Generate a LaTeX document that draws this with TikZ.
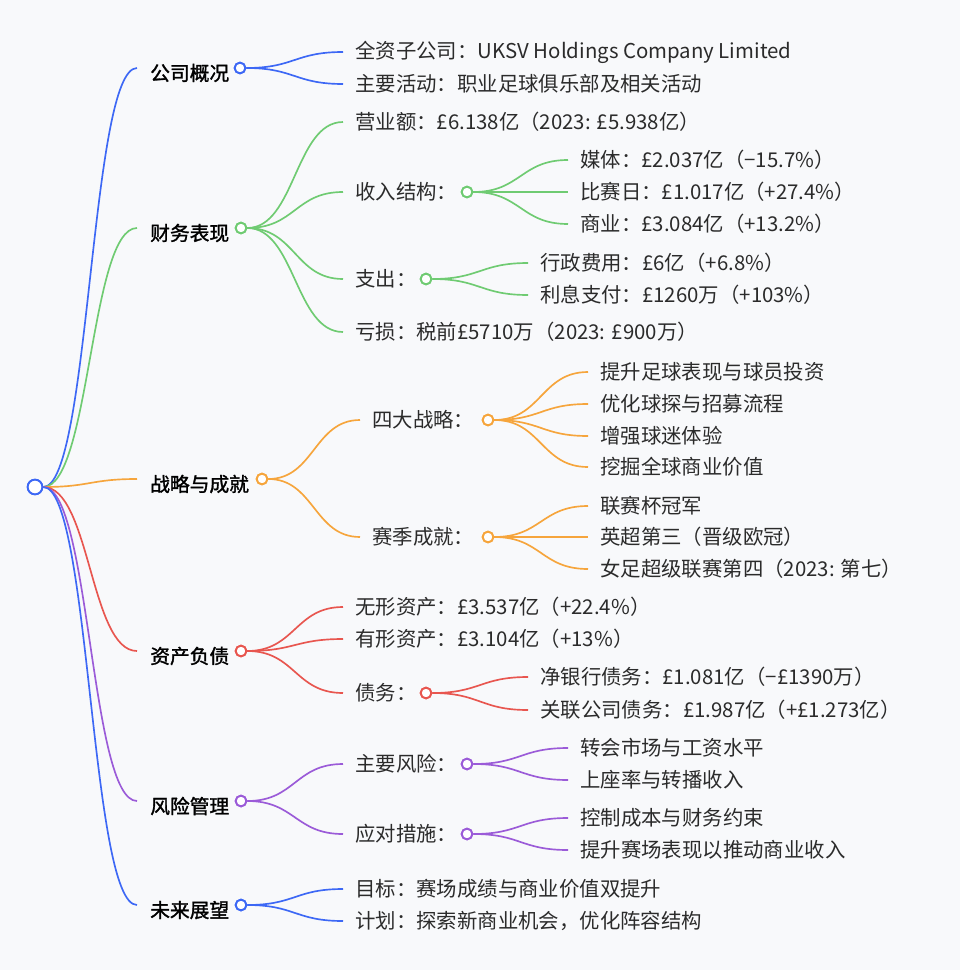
\documentclass[tikz,border=0pt]{standalone}
\usepackage{fontspec}
\setmainfont{Noto Sans CJK SC}
\newfontfamily\boldcjk[FakeBold=1.5]{Noto Sans CJK SC}
\usetikzlibrary{calc}
\definecolor{cb}{HTML}{3D68F5}
\definecolor{cg}{HTML}{6FCB72}
\definecolor{co}{HTML}{F6A53C}
\definecolor{cr}{HTML}{E8564F}
\definecolor{cp}{HTML}{9B5BD8}
\definecolor{bg}{HTML}{F8F9FB}
\definecolor{tx}{HTML}{2B2B2B}
\begin{document}
\begin{tikzpicture}[x=0.75pt,y=-0.75pt,
  dot/.style={circle,draw=#1,fill=white,line width=1.4pt,inner sep=0pt,minimum size=8pt},
  lbl/.style={anchor=west,inner sep=0pt,text=tx,font=\fontsize{15.3}{17}\selectfont},
  blbl/.style={anchor=west,inner sep=0pt,text=black,font=\fontsize{14.8}{17}\selectfont\boldcjk},
  ln/.style={draw=#1,line width=1.25pt}]
\fill[bg] (0,0) rectangle (960,970);
\useasboundingbox (0,0) rectangle (960,970);
\newcommand\curv[3]{%
  \draw[ln=#3] let \p1=(#1), \p2=(#2) in (\p1) .. controls ({(\x1+\x2)/2},\y1) and ({(\x1+\x2)/2},\y2) .. (\p2);}
\node[dot=cb,minimum size=11pt] (root) at (35,487) {};
\def\B#1#2#3#4#5{%
 \coordinate (#1e) at (137,#3);
 \node[blbl] (#1) at (150,#3+5) {#2};
 \node[dot=#4] (#1c) at (#5,#3) {};
 \curv{root.east}{#1e}{#4}
}
\B{a}{公司概况}{68}{cb}{240}
\B{b}{财务表现}{228}{cg}{241}
\B{c}{战略与成就}{479}{co}{262}
\B{d}{资产负债}{651}{cr}{241}
\B{e}{风险管理}{801}{cp}{241}
\B{f}{未来展望}{905}{cb}{241}
\def\L#1#2#3#4#5#6{%
 \coordinate (#1e) at (#4-12,#3);
 \node[lbl] (#1) at (#4,#3) {#5};
 \curv{#2.east}{#1e}{#6}
}
\def\M#1#2#3#4#5#6#7{%
 \L{#1}{#2}{#3}{#4}{#5}{#6}
 \node[dot=#6] (#1c) at (#7,#3) {};
}
\L{a1}{ac}{52}{355}{全资子公司：UKSV Holdings Company Limited}{cb}
\L{a2}{ac}{84}{355}{主要活动：职业足球俱乐部及相关活动}{cb}
\L{b1}{bc}{122}{355}{营业额：£6.138亿（2023: £5.938亿）}{cg}
\M{b2}{bc}{192}{355}{收入结构：}{cg}{467}
\M{b3}{bc}{279}{355}{支出：}{cg}{426}
\L{b4}{bc}{332}{355}{亏损：税前£5710万（2023: £900万）}{cg}
\L{b21}{b2c}{160}{580}{媒体：£2.037亿（−15.7\%）}{cg}
\L{b22}{b2c}{192}{580}{比赛日：£1.017亿（+27.4\%）}{cg}
\L{b23}{b2c}{224}{580}{商业：£3.084亿（+13.2\%）}{cg}
\L{b31}{b3c}{263}{540}{行政费用：£6亿（+6.8\%）}{cg}
\L{b32}{b3c}{295}{540}{利息支付：£1260万（+103\%）}{cg}
\M{c1}{cc}{420}{372}{四大战略：}{co}{488}
\M{c2}{cc}{537}{372}{赛季成就：}{co}{488}
\L{c11}{c1c}{372}{600}{提升足球表现与球员投资}{co}
\L{c12}{c1c}{404}{600}{优化球探与招募流程}{co}
\L{c13}{c1c}{436}{600}{增强球迷体验}{co}
\L{c14}{c1c}{467}{600}{挖掘全球商业价值}{co}
\L{c21}{c2c}{506}{600}{联赛杯冠军}{co}
\L{c22}{c2c}{537}{600}{英超第三（晋级欧冠）}{co}
\L{c23}{c2c}{569}{600}{女足超级联赛第四（2023: 第七）}{co}
\L{d1}{dc}{607}{355}{无形资产：£3.537亿（+22.4\%）}{cr}
\L{d2}{dc}{639}{355}{有形资产：£3.104亿（+13\%）}{cr}
\M{d3}{dc}{693}{355}{债务：}{cr}{426}
\L{d31}{d3c}{677}{540}{净银行债务：£1.081亿（−£1390万）}{cr}
\L{d32}{d3c}{710}{540}{关联公司债务：£1.987亿（+£1.273亿）}{cr}
\M{e1}{ec}{764}{355}{主要风险：}{cp}{467}
\M{e2}{ec}{834}{355}{应对措施：}{cp}{467}
\L{e11}{e1c}{748}{580}{转会市场与工资水平}{cp}
\L{e12}{e1c}{780}{580}{上座率与转播收入}{cp}
\L{e21}{e2c}{818}{580}{控制成本与财务约束}{cp}
\L{e22}{e2c}{850}{580}{提升赛场表现以推动商业收入}{cp}
\L{f1}{fc}{889}{355}{目标：赛场成绩与商业价值双提升}{cb}
\L{f2}{fc}{921}{355}{计划：探索新商业机会，优化阵容结构}{cb}
\foreach \n/\c in {ac/cb,bc/cg,cc/co,dc/cr,ec/cp,fc/cb,b2c/cg,b3c/cg,c1c/co,c2c/co,d3c/cr,e1c/cp,e2c/cp}{
  \node[dot=\c] at (\n) {};}
\node[dot=cb,minimum size=11pt] at (root) {};
\end{tikzpicture}
\end{document}
